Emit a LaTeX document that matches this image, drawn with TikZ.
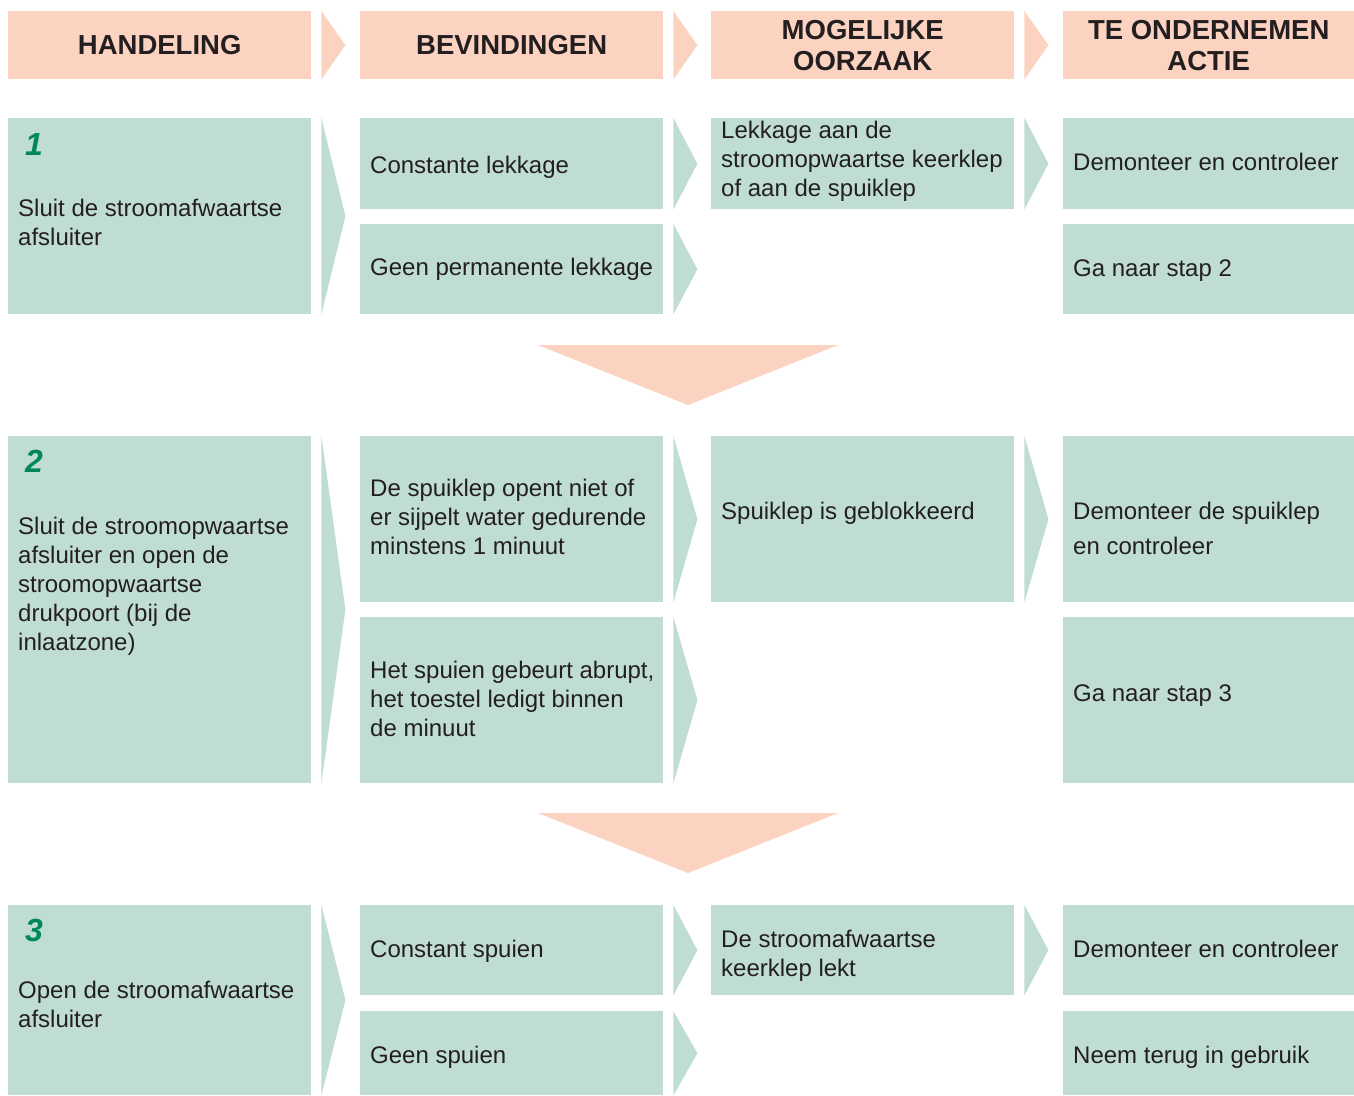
\documentclass[tikz,border=0pt]{standalone}
\usepackage{fontspec}
\setmainfont{Liberation Sans}
\usetikzlibrary{calc,positioning}
\definecolor{zalm}{RGB}{252,211,193}
\definecolor{mint}{RGB}{192,221,210}
\definecolor{stapgroen}{RGB}{0,135,90}
\definecolor{inkt}{RGB}{35,31,32}
\tikzset{
  vak/.style={fill=mint, anchor=north west, inner sep=0pt, minimum width=303pt},
  kop/.style={fill=zalm, anchor=north west, inner sep=0pt, minimum width=303pt,
    minimum height=68pt, align=center, text=inkt,
    font=\fontsize{27.5}{31}\selectfont\bfseries},
  tekst/.style={anchor=west, align=left, inner sep=0pt, text=inkt,
    font=\fontsize{24}{29}\selectfont},
  stap/.style={anchor=base west, inner sep=0pt, text=stapgroen,
    font=\fontsize{32}{32}\selectfont\bfseries\itshape},
}

\begin{document}
\begin{tikzpicture}[x=1pt,y=-1pt]
    \useasboundingbox (0,0) rectangle (1354,1095);

    % koppen
    \node[kop] (k1) at (8,11) {HANDELING};
    \node[kop] (k2) at (360,11) {BEVINDINGEN};
    \node[kop] (k3) at (711,11) {MOGELIJKE\\OORZAAK};
    \node[kop, minimum width=291pt] (k4) at (1063,11) {TE ONDERNEMEN\\ACTIE};

    % stap 1
    \node[vak, minimum height=196pt] (h1) at (8,118) {};
    \node[stap] (s1) at ($(h1.north west)+(17,37)$) {1};
    \node[tekst, anchor=north west] (t1) at ($(h1.north west)+(10,81)$)
      {Sluit de stroomafwaartse\\afsluiter};

    \node[vak, minimum height=91pt] (b1a) at (360,118) {};
    \node[tekst] (tb1a) at ($(b1a.west)+(10,4)$) {Constante lekkage};
    \node[vak, minimum height=90pt] (b1b) at (360,224) {};
    \node[tekst] (tb1b) at ($(b1b.west)+(10,0)$) {Geen permanente lekkage};

    \node[vak, minimum height=91pt] (o1) at (711,118) {};
    \node[tekst] (to1) at ($(o1.west)+(10,-2)$)
      {Lekkage aan de\\stroomopwaartse keerklep\\of aan de spuiklep};

    \node[vak, minimum width=291pt, minimum height=91pt] (a1a) at (1063,118) {};
    \node[tekst] (ta1a) at ($(a1a.west)+(10,-2)$) {Demonteer en controleer};
    \node[vak, minimum width=291pt, minimum height=90pt] (a1b) at (1063,224) {};
    \node[tekst] (ta1b) at ($(a1b.west)+(10,1)$) {Ga naar stap 2};

    \coordinate (d1) at (688,345);
    \fill[zalm] ($(d1)+(-150,0)$) -- ($(d1)+(150,0)$) -- ($(d1)+(0,60)$) -- cycle;

    % stap 2
    \node[vak, minimum height=347pt] (h2) at (8,436) {};
    \node[stap] (s2) at ($(h2.north west)+(17,36)$) {2};
    \node[tekst, anchor=north west] (t2) at ($(h2.north west)+(10,81)$)
      {Sluit de stroomopwaartse\\afsluiter en open de\\stroomopwaartse\\drukpoort (bij de\\inlaatzone)};

    \node[vak, minimum height=166pt] (b2a) at (360,436) {};
    \node[tekst] (tb2a) at ($(b2a.west)+(10,-2)$)
      {De spuiklep opent niet of\\er sijpelt water gedurende\\minstens 1 minuut};
    \node[vak, minimum height=166pt] (b2b) at (360,617) {};
    \node[tekst] (tb2b) at ($(b2b.west)+(10,-1)$)
      {Het spuien gebeurt abrupt,\\het toestel ledigt binnen\\de minuut};

    \node[vak, minimum height=166pt] (o2) at (711,436) {};
    \node[tekst] (to2) at ($(o2.west)+(10,-6)$) {Spuiklep is geblokkeerd};

    \node[vak, minimum width=291pt, minimum height=166pt] (a2a) at (1063,436) {};
    \node[tekst] (ta2a) at ($(a2a.west)+(10,9.5)$) {Demonteer de spuiklep\\[6pt]en controleer};
    \node[vak, minimum width=291pt, minimum height=166pt] (a2b) at (1063,617) {};
    \node[tekst] (ta2b) at ($(a2b.west)+(10,-5)$) {Ga naar stap 3};

    \coordinate (d2) at (688,813);
    \fill[zalm] ($(d2)+(-150,0)$) -- ($(d2)+(150,0)$) -- ($(d2)+(0,60)$) -- cycle;

    % stap 3
    \node[vak, minimum height=190pt] (h3) at (8,905) {};
    \node[stap] (s3) at ($(h3.north west)+(17,36)$) {3};
    \node[tekst, anchor=north west] (t3) at ($(h3.north west)+(10,76)$)
      {Open de stroomafwaartse\\afsluiter};

    \node[vak, minimum height=90pt] (b3a) at (360,905) {};
    \node[tekst] (tb3a) at ($(b3a.west)+(10,1)$) {Constant spuien};
    \node[vak, minimum height=84pt] (b3b) at (360,1011) {};
    \node[tekst] (tb3b) at ($(b3b.west)+(10,4)$) {Geen spuien};

    \node[vak, minimum height=90pt] (o3) at (711,905) {};
    \node[tekst] (to3) at ($(o3.west)+(10,6)$) {De stroomafwaartse\\keerklep lekt};

    \node[vak, minimum width=291pt, minimum height=90pt] (a3a) at (1063,905) {};
    \node[tekst] (ta3a) at ($(a3a.west)+(10,-1)$) {Demonteer en controleer};
    \node[vak, minimum width=291pt, minimum height=84pt] (a3b) at (1063,1011) {};
    \node[tekst] (ta3b) at ($(a3b.west)+(10,4)$) {Neem terug in gebruik};

    % pijlpunten
    \foreach \n in {k1,k2,k3}
      \fill[zalm] ($(\n.north east)+(10,0)$) -- ($(\n.east)+(34,0)$) -- ($(\n.south east)+(10,0)$) -- cycle;
    \foreach \n in {h1,h2,h3,b1a,b1b,b2a,b2b,b3a,b3b,o1,o2,o3}
      \fill[mint] ($(\n.north east)+(10,0)$) -- ($(\n.east)+(34,0)$) -- ($(\n.south east)+(10,0)$) -- cycle;
\end{tikzpicture}
\end{document}
